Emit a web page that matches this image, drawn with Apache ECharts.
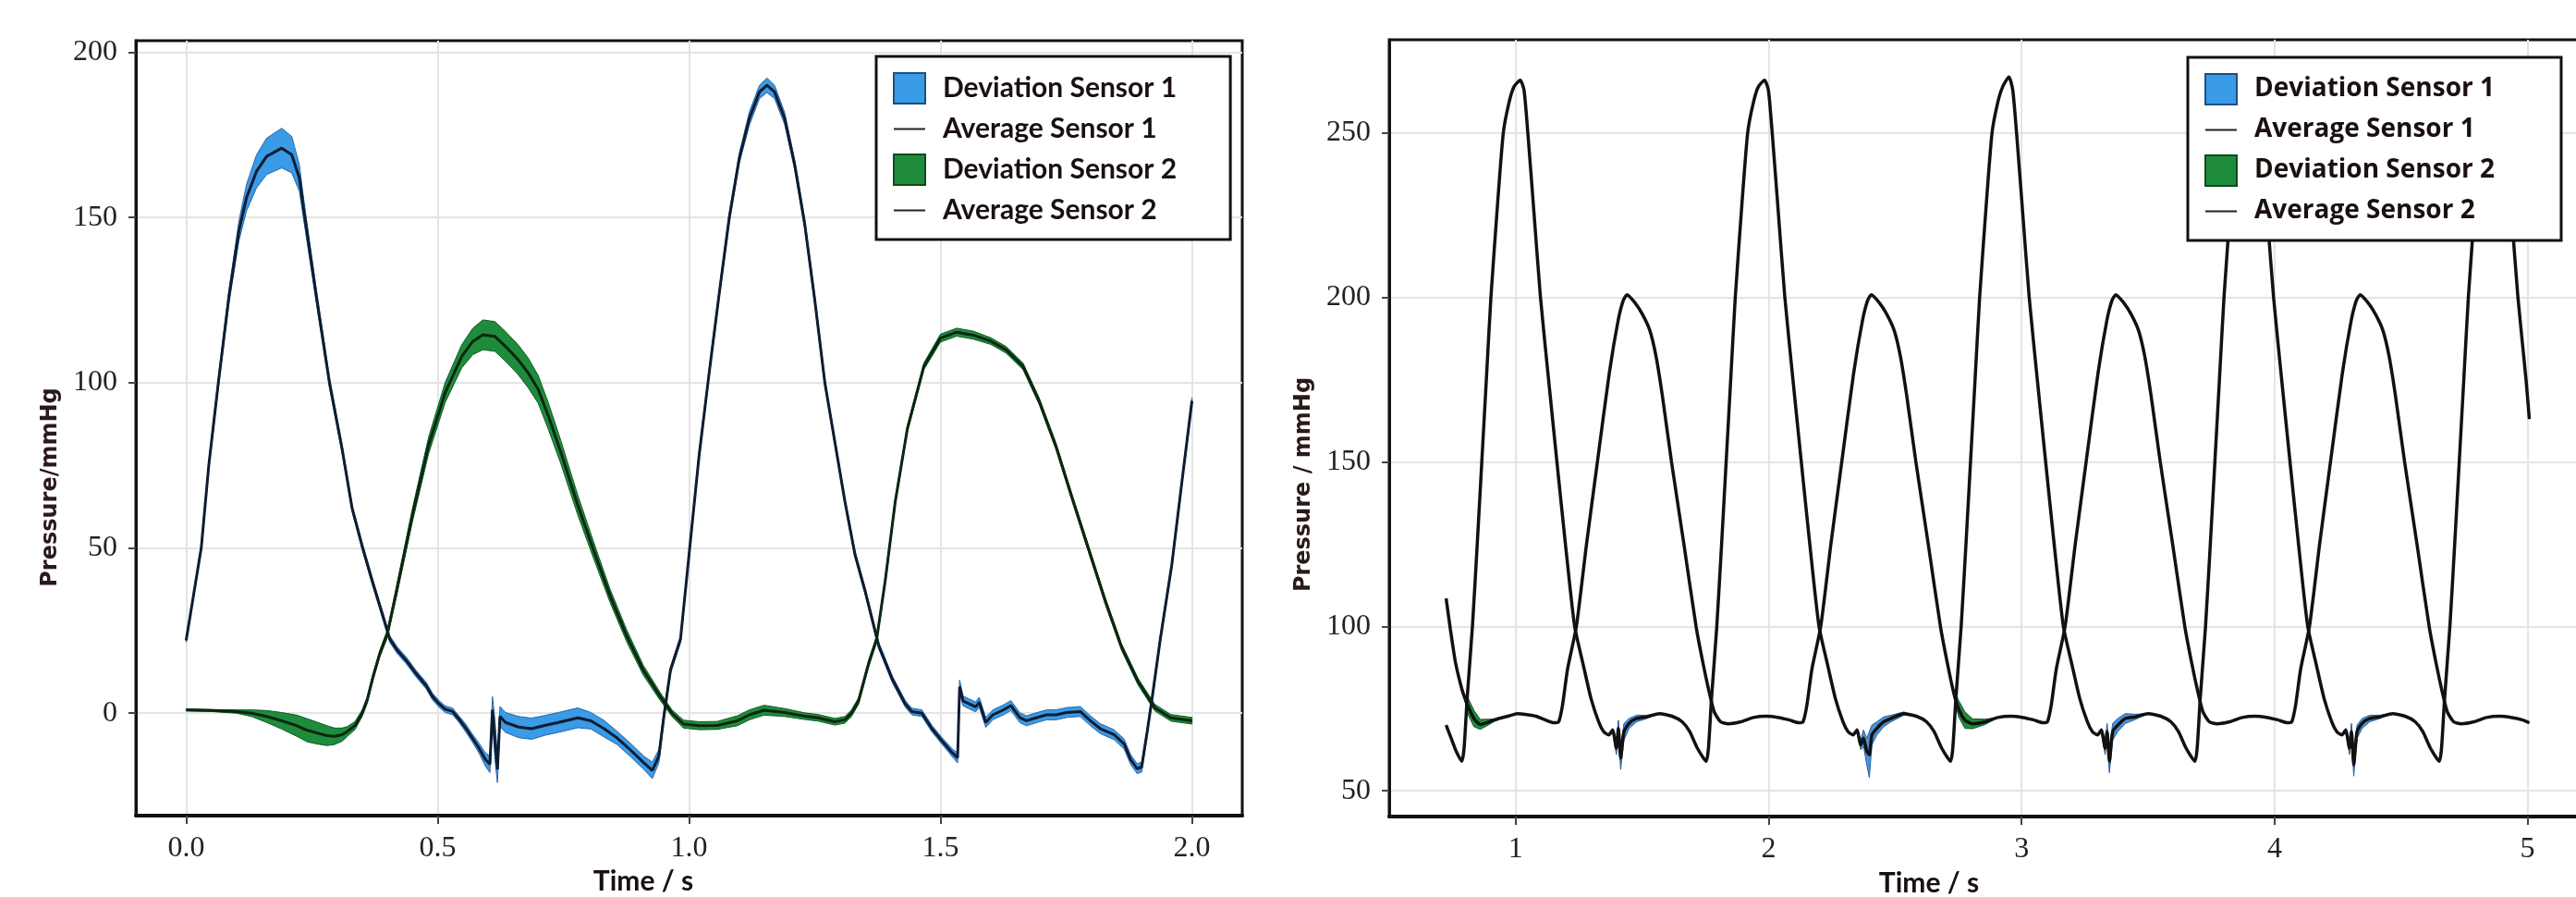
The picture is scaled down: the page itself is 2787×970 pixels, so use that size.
<!DOCTYPE html>
<html>
<head>
<meta charset="utf-8">
<title>Pressure sensors</title>
<script src="https://cdn.jsdelivr.net/npm/echarts@6/dist/echarts.min.js"></script>
<style>
html, body { margin: 0; padding: 0; background: #fff; }
#chart { width: 2787px; height: 970px; }
</style>
</head>
<body>
<div id="chart"></div>
<script>
// tick values
var leftTicksX = [0, 0.5, 1, 1.5, 2];
var leftTicksY = [0, 50, 100, 150, 200];
var rightTicksX = [1, 2, 3, 4, 5];
var rightTicksY = [50, 100, 150, 200, 250];

// rows: [time s, average mmHg, half width of deviation band]
var leftSensor1 = [
  [0.000, 22, 0.5], [0.015, 36, 0.5], [0.030, 50, 0.8], [0.045, 75, 1], [0.064, 100, 1.5],
  [0.085, 126, 2], [0.105, 146, 3], [0.120, 156, 4], [0.140, 164, 5], [0.160, 168.5, 5.5], [0.190, 171, 6],
  [0.210, 169, 5.5], [0.225, 162, 4], [0.236, 150, 3], [0.260, 125, 2], [0.285, 100, 1.5],
  [0.310, 80, 1.2], [0.330, 62, 1], [0.351, 50, 1], [0.370, 40, 1], [0.390, 30, 1],
  [0.405, 22.4, 1], [0.420, 19, 1], [0.438, 15.9, 1], [0.457, 12, 1], [0.477, 8.4, 1],
  [0.490, 5, 1], [0.503, 2.8, 1], [0.515, 1.2, 1], [0.530, 0.5, 1], [0.543, -1.9, 1],
  [0.556, -4.5, 1.2], [0.569, -7.5, 1.2], [0.582, -10.5, 1.5], [0.595, -14, 2], [0.604, -15.5, 2.5],
  [0.609, 1, 4], [0.614, -8, 6], [0.619, -17, 4], [0.624, -1, 3], [0.635, -2.8, 3],
  [0.661, -4.2, 3.2], [0.687, -4.7, 3.2], [0.713, -3.7, 3], [0.740, -2.8, 3], [0.779, -1.4, 3],
  [0.805, -2.3, 2.5], [0.831, -4.7, 2.5], [0.857, -7.5, 2], [0.884, -11.2, 2], [0.910, -15, 2],
  [0.927, -17.3, 2.5], [0.940, -13, 2], [0.950, -0.9, 1.5], [0.963, 13, 1], [0.983, 22.4, 1],
  [1.000, 48, 1], [1.020, 78, 1], [1.040, 103, 1], [1.060, 127, 1.2], [1.080, 150, 1.5],
  [1.100, 168, 1.5], [1.120, 180, 2], [1.140, 188, 2], [1.155, 190, 2.2], [1.170, 188, 2],
  [1.190, 180, 1.8], [1.210, 166, 1.5], [1.230, 148, 1.5], [1.250, 125, 1.2], [1.270, 100, 1],
  [1.290, 82, 1], [1.310, 64, 1], [1.330, 48, 1], [1.350, 37, 1], [1.377, 20.5, 1],
  [1.404, 10.3, 1], [1.430, 2.8, 1], [1.443, 0.5, 1], [1.463, 0, 1], [1.483, -4.7, 1],
  [1.503, -8.4, 1], [1.524, -12.1, 1.2], [1.534, -13.5, 1.5], [1.538, 8, 2], [1.545, 3.7, 1.5],
  [1.557, 2.8, 1.5], [1.570, 1.9, 1.5], [1.577, 3.3, 1.5], [1.590, -2.8, 1.5], [1.604, -0.5, 1.5],
  [1.624, 0.9, 1.5], [1.640, 2.3, 1.5], [1.658, -1.4, 1.5], [1.671, -2.3, 1.5], [1.690, -1.4, 1.5],
  [1.711, -0.5, 1.5], [1.730, -0.5, 1.5], [1.751, 0.2, 1.5], [1.778, 0.5, 1.5], [1.798, -2.3, 1.5],
  [1.818, -4.7, 1.5], [1.845, -6.5, 1.5], [1.865, -9.3, 1.5], [1.878, -14, 1.5], [1.891, -16.8, 1.5],
  [1.900, -16.3, 1.5], [1.911, -5.6, 1], [1.920, 3.7, 1], [1.937, 22.4, 1], [1.960, 45, 1],
  [1.980, 70, 1], [2.000, 94.5, 1]
];

var leftSensor2 = [
  [0.000, 1, 0.3], [0.050, 0.8, 0.3], [0.100, 0.5, 0.5], [0.130, 0, 1], [0.160, -1, 1.8],
  [0.190, -2.3, 2.5], [0.220, -3.8, 3.2], [0.241, -5.2, 3.5], [0.260, -6, 3.3], [0.280, -6.8, 3],
  [0.295, -7, 2.5], [0.310, -6.5, 2], [0.320, -5.6, 1.5], [0.336, -3.7, 1.2], [0.350, 0, 1],
  [0.360, 4, 1], [0.372, 11.2, 1], [0.385, 18, 1], [0.400, 24, 1.2], [0.417, 36, 1.5],
  [0.450, 60, 2], [0.482, 81, 2.5], [0.515, 97, 3], [0.548, 108, 3.5], [0.570, 112.5, 4],
  [0.590, 114.5, 4.5], [0.614, 114, 4.5], [0.635, 111, 4.5], [0.660, 107, 4.5], [0.680, 103, 4.5],
  [0.700, 98, 4.2], [0.720, 90, 4], [0.745, 79, 3.5], [0.778, 63.3, 3], [0.810, 49.4, 2.5],
  [0.843, 35.5, 2], [0.876, 23.4, 1.8], [0.909, 13, 1.5], [0.942, 5.2, 1.2], [0.966, 0, 1],
  [0.989, -3.3, 1.2], [1.020, -3.8, 1.2], [1.056, -3.7, 1.2], [1.096, -2.3, 1.5], [1.120, -0.5, 1.5],
  [1.149, 0.9, 1.5], [1.190, 0.2, 1.2], [1.230, -0.9, 1], [1.257, -1.4, 1], [1.290, -2.6, 1],
  [1.310, -2, 1], [1.323, 0, 1], [1.337, 3.7, 1], [1.357, 15, 1], [1.373, 22.4, 1],
  [1.390, 40, 1], [1.410, 64, 1], [1.434, 86, 1], [1.467, 105, 1], [1.500, 113.5, 1.2],
  [1.532, 115.3, 1.2], [1.565, 114.4, 1.2], [1.600, 112.6, 1], [1.630, 110, 1], [1.664, 105, 1],
  [1.696, 94.5, 1], [1.730, 80.6, 1], [1.762, 65, 1], [1.795, 49.4, 1], [1.828, 33.8, 1],
  [1.860, 20, 1], [1.893, 9.5, 1], [1.926, 1.7, 1], [1.958, -1.4, 1], [2.000, -2.3, 1]
];

var rightSensor1 = [
  [0.725, 70], [0.745, 66], [0.765, 62], [0.787, 59],
  [0.796, 63], [0.808, 78], [0.829, 100], [0.848, 125], [0.866, 150], [0.884, 175], [0.902, 200],
  [0.928, 228], [0.951, 250], [0.973, 259], [0.993, 264], [1.018, 266],
  [1.033, 263], [1.048, 250], [1.073, 225], [1.098, 200], [1.130, 175], [1.163, 150], [1.198, 124],
  [1.233, 100], [1.268, 88], [1.298, 78], [1.328, 71], [1.348, 68], [1.368, 67], [1.383, 68.5, 0.5],
  [1.398, 63, 2], [1.406, 69, 2.5], [1.415, 60, 3.5], [1.428, 68, 2.5], [1.448, 70.5, 1.5],
  [1.478, 72, 1], [1.518, 72.5, 0.5], [1.568, 73.5], [1.618, 72.7], [1.658, 71], [1.688, 68],
  [1.718, 63], [1.753, 59],
  [1.762, 63], [1.774, 78], [1.795, 100], [1.814, 125], [1.832, 150], [1.850, 175], [1.868, 200],
  [1.894, 228], [1.917, 250], [1.939, 259], [1.959, 264], [1.984, 266],
  [1.999, 263], [2.014, 250], [2.039, 225], [2.064, 200], [2.096, 175], [2.129, 150], [2.164, 124],
  [2.199, 100], [2.234, 88], [2.264, 78], [2.294, 71], [2.314, 68], [2.334, 67], [2.349, 68.5, 0.5],
  [2.364, 64, 1.5], [2.375, 66, 2.5], [2.388, 62, 4], [2.398, 61, 7], [2.408, 67, 3],
  [2.428, 69, 2], [2.455, 71, 1.5], [2.484, 72, 1], [2.534, 73.5, 0.5], [2.584, 72.7], [2.624, 71],
  [2.654, 68], [2.684, 63], [2.719, 59],
  [2.728, 63], [2.740, 78], [2.761, 100], [2.780, 125], [2.798, 150], [2.816, 175], [2.834, 200],
  [2.860, 228], [2.883, 250], [2.905, 259], [2.925, 264], [2.950, 267],
  [2.965, 263], [2.980, 250], [3.005, 225], [3.030, 200], [3.062, 175], [3.095, 150], [3.130, 124],
  [3.165, 100], [3.200, 88], [3.230, 78], [3.260, 71], [3.280, 68], [3.300, 67], [3.315, 68.5, 0.5],
  [3.330, 63, 2], [3.338, 68, 2.5], [3.347, 59, 3.5], [3.360, 68, 2.5], [3.380, 70, 2],
  [3.410, 72, 1.5], [3.450, 72.5, 0.8], [3.500, 73.5], [3.550, 72.7], [3.590, 71], [3.620, 68],
  [3.650, 63], [3.685, 59],
  [3.694, 63], [3.706, 78], [3.727, 100], [3.746, 125], [3.764, 150], [3.782, 175], [3.800, 200],
  [3.826, 228], [3.849, 250], [3.871, 259], [3.891, 264], [3.916, 266],
  [3.931, 263], [3.946, 250], [3.971, 225], [3.996, 200], [4.028, 175], [4.061, 150], [4.096, 124],
  [4.131, 100], [4.166, 88], [4.196, 78], [4.226, 71], [4.246, 68], [4.266, 67], [4.281, 68.5, 0.5],
  [4.296, 63, 2], [4.304, 68, 2.5], [4.313, 58, 3.5], [4.326, 68, 2], [4.346, 70.5, 1.5],
  [4.376, 72, 1], [4.416, 72.5, 0.5], [4.466, 73.5], [4.516, 72.7], [4.556, 71], [4.586, 68],
  [4.616, 63], [4.651, 59],
  [4.660, 63], [4.672, 78], [4.693, 100], [4.712, 125], [4.730, 150], [4.748, 175], [4.766, 200],
  [4.792, 228], [4.815, 250], [4.837, 259], [4.857, 264], [4.882, 266],
  [4.897, 263], [4.912, 250], [4.937, 225], [4.962, 200], [4.994, 175], [5.007, 163]
];

var rightSensor2 = [
  [0.725, 108.5], [0.742, 99], [0.762, 89], [0.787, 81], [0.800, 78, 1], [0.813, 75.5, 2.5],
  [0.835, 72, 2.5], [0.860, 70.2, 1.5], [0.896, 71, 0.8], [0.933, 72], [0.970, 72.7], [1.006, 73.5],
  [1.043, 73.2], [1.080, 72.7], [1.116, 71.6], [1.152, 70.7],
  [1.170, 71], [1.185, 76], [1.205, 87], [1.240, 100], [1.280, 125], [1.323, 150], [1.370, 177],
  [1.405, 193], [1.425, 199], [1.440, 200.8], [1.470, 198.5], [1.500, 195], [1.530, 190],
  [1.555, 182], [1.580, 170], [1.616, 150], [1.665, 125], [1.713, 100], [1.740, 89], [1.765, 80],
  [1.785, 74], [1.810, 71], [1.840, 70.4], [1.890, 71], [1.940, 72.3], [1.990, 72.7], [2.040, 72.3],
  [2.080, 71.6], [2.120, 70.7],
  [2.136, 71], [2.151, 76], [2.171, 87], [2.206, 100], [2.246, 125], [2.289, 150], [2.336, 177],
  [2.371, 193], [2.391, 199], [2.406, 200.8], [2.436, 198.5], [2.466, 195], [2.496, 190],
  [2.521, 182], [2.546, 170], [2.582, 150], [2.631, 125], [2.679, 100], [2.706, 89], [2.731, 80, 1],
  [2.751, 75, 2.5], [2.776, 71.5, 2.5], [2.806, 70.4, 1.5], [2.856, 71, 0.8], [2.906, 72.3],
  [2.956, 72.7], [3.006, 72.3], [3.046, 71.6], [3.086, 70.7],
  [3.102, 71], [3.117, 76], [3.137, 87], [3.172, 100], [3.212, 125], [3.255, 150], [3.302, 177],
  [3.337, 193], [3.357, 199], [3.372, 200.8], [3.402, 198.5], [3.432, 195], [3.462, 190],
  [3.487, 182], [3.512, 170], [3.548, 150], [3.597, 125], [3.645, 100], [3.672, 89], [3.697, 80],
  [3.717, 74], [3.742, 71], [3.772, 70.4], [3.822, 71], [3.872, 72.3], [3.922, 72.7], [3.972, 72.3],
  [4.012, 71.6], [4.052, 70.7],
  [4.068, 71], [4.083, 76], [4.103, 87], [4.138, 100], [4.178, 125], [4.221, 150], [4.268, 177],
  [4.303, 193], [4.323, 199], [4.338, 200.8], [4.368, 198.5], [4.398, 195], [4.428, 190],
  [4.453, 182], [4.478, 170], [4.514, 150], [4.563, 125], [4.611, 100], [4.638, 89], [4.663, 80],
  [4.683, 74], [4.708, 71], [4.738, 70.4], [4.788, 71], [4.838, 72.3], [4.888, 72.7], [4.938, 72.3],
  [4.978, 71.6], [5.007, 70.7]
];

var chart = echarts.init(document.getElementById('chart'), null, { renderer: 'canvas' });

// deviation band drawn as one polygon: upper edge forward, lower edge back
function bandSeries(rows, name, idx, fill, edge) {
  var pts = rows.map(function (r) { return [r[0], r[1] - (r[2] || 0), r[1] + (r[2] || 0)]; });
  return {
    type: 'custom', name: name, xAxisIndex: idx, yAxisIndex: idx, z: 2, silent: true,
    encode: { x: 0, y: [1, 2] },
    data: pts,
    renderItem: function (params, api) {
      if (params.dataIndex !== 0) return null;
      var upper = [], lower = [];
      pts.forEach(function (p) {
        upper.push(api.coord([p[0], p[2]]));
        lower.unshift(api.coord([p[0], p[1]]));
      });
      return {
        type: 'polygon',
        shape: { points: upper.concat(lower) },
        style: { fill: fill, stroke: edge, lineWidth: 1 }
      };
    }
  };
}

function avgSeries(rows, name, idx, color, w, smooth) {
  return {
    type: 'line', name: name, xAxisIndex: idx, yAxisIndex: idx,
    symbol: 'none', z: 3, silent: true, smooth: smooth,
    lineStyle: { width: w, color: color },
    data: rows.map(function (r) { return [r[0], r[1]]; })
  };
}

function legendFor(left, top, pad, font, size) {
  return {
    orient: 'vertical', left: left, top: top, padding: pad,
    itemWidth: 34, itemHeight: 33, itemGap: 10,
    backgroundColor: '#fff', borderColor: '#111', borderWidth: 3, borderRadius: 0,
    selectedMode: false, z: 10,
    textStyle: { fontFamily: font, fontWeight: 'bold', fontSize: size, lineHeight: 33, color: '#1a1010', padding: [0, 0, 0, 14] },
    data: [
      { name: 'Deviation Sensor 1', icon: 'rect', itemStyle: { color: '#3a9be6', borderColor: '#1d4f80', borderWidth: 2 } },
      { name: 'Average Sensor 1', icon: 'path://M0,0H34V2H0Z', itemStyle: { color: '#222', borderWidth: 0 } },
      { name: 'Deviation Sensor 2', icon: 'rect', itemStyle: { color: '#1f8c3c', borderColor: '#0d4a1c', borderWidth: 2 } },
      { name: 'Average Sensor 2', icon: 'path://M0,0H34V2H0Z', itemStyle: { color: '#222', borderWidth: 0 } }
    ]
  };
}

function xAxisFor(idx, min, max, ticks, fmt) {
  return {
    type: 'value', gridIndex: idx, min: min, max: max,
    axisLine: { show: true, onZero: false, lineStyle: { color: '#111', width: 4 } },
    axisTick: { show: true, length: 9, customValues: ticks, lineStyle: { color: '#444', width: 2 } },
    axisLabel: { customValues: ticks, formatter: fmt, margin: 20, fontFamily: 'Liberation Serif', fontSize: 32, color: '#222' },
    splitLine: { show: true, lineStyle: { color: '#e4e4e4', width: 2 } }
  };
}

function yAxisFor(idx, min, max, ticks) {
  return {
    type: 'value', gridIndex: idx, min: min, max: max,
    axisLine: { show: true, onZero: false, lineStyle: { color: '#111', width: 3 } },
    axisTick: { show: true, length: 8, customValues: ticks, lineStyle: { color: '#444', width: 2 } },
    axisLabel: { customValues: ticks, margin: 20, fontFamily: 'Liberation Serif', fontSize: 32, color: '#222' },
    splitLine: { show: true, lineStyle: { color: '#e4e4e4', width: 2 } }
  };
}

var titleFont = { fontFamily: 'DejaVu Sans', fontWeight: 'bold', fontSize: 24, fill: '#2b1a1a', align: 'center', verticalAlign: 'middle' };
var timeFont = { fontFamily: 'Lato', fontWeight: 'bold', fontSize: 30, fill: '#1a1010', align: 'center', verticalAlign: 'middle' };

var option = {
  animation: false,
  backgroundColor: '#fff',
  grid: [
    { left: 147, top: 44, width: 1197, height: 838, show: true, borderColor: '#111', borderWidth: 3, backgroundColor: '#fff', outerBoundsMode: 'none' },
    { left: 1503, top: 43, right: -16, height: 840, show: true, borderColor: '#111', borderWidth: 3, backgroundColor: '#fff', outerBoundsMode: 'none' }
  ],
  xAxis: [
    xAxisFor(0, -0.1, 2.1, leftTicksX, function (v) { return v.toFixed(1); }),
    xAxisFor(1, 0.5, 5.25, rightTicksX, function (v) { return String(v); })
  ],
  yAxis: [
    yAxisFor(0, -31, 203.5, leftTicksY),
    yAxisFor(1, 42.2, 278.3, rightTicksY)
  ],
  legend: [
    legendFor(948, 61, [17, 58, 15, 18], 'Lato', 30),
    legendFor(2367, 62, [17, 72, 15, 18], 'Open Sans', 28)
  ],
  graphic: [
    { type: 'text', x: 55, y: 527, rotation: Math.PI / 2, style: Object.assign({ text: 'Pressure/mmHg' }, titleFont) },
    { type: 'text', x: 1411, y: 524, rotation: Math.PI / 2, style: Object.assign({ text: 'Pressure / mmHg' }, titleFont) },
    { type: 'text', x: 696, y: 953, style: Object.assign({ text: 'Time / s' }, timeFont) },
    { type: 'text', x: 2087, y: 955, style: Object.assign({ text: 'Time / s' }, timeFont) }
  ],
  series: [
    bandSeries(leftSensor1, 'Deviation Sensor 1', 0, '#3a9be6', '#2566a8'),
    bandSeries(leftSensor2, 'Deviation Sensor 2', 0, '#1f8c3c', '#0f5a22'),
    bandSeries(rightSensor1, 'Deviation Sensor 1', 1, '#4a93d6', '#24609e'),
    bandSeries(rightSensor2, 'Deviation Sensor 2', 1, '#1f8c3c', '#0f5a22'),
    avgSeries(leftSensor1, 'Average Sensor 1', 0, '#0f1c30', 3, false),
    avgSeries(leftSensor2, 'Average Sensor 2', 0, '#0c2612', 3, false),
    avgSeries(rightSensor1, 'Average Sensor 1', 1, '#111', 3.5, 0.2),
    avgSeries(rightSensor2, 'Average Sensor 2', 1, '#111', 3.5, 0.2)
  ]
};

chart.setOption(option);
</script>
</body>
</html>
